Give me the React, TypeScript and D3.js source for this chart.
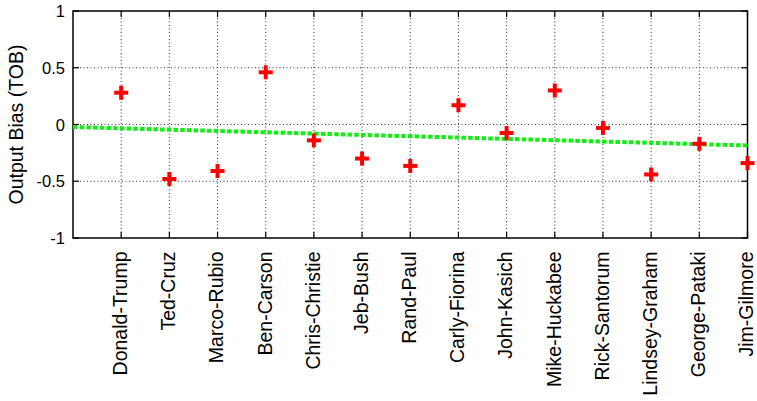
import React from "react";
import * as d3 from "d3";

const candidates = [
  "Donald-Trump", "Ted-Cruz", "Marco-Rubio", "Ben-Carson", "Chris-Christie",
  "Jeb-Bush", "Rand-Paul", "Carly-Fiorina", "John-Kasich", "Mike-Huckabee",
  "Rick-Santorum", "Lindsey-Graham", "George-Pataki", "Jim-Gilmore",
];
const biasValues = [0.28, -0.48, -0.41, 0.46, -0.14, -0.3, -0.365, 0.17, -0.075, 0.3, -0.03, -0.44, -0.17, -0.34];
const trendX = [0, 14];
const trendY = [-0.022, -0.185];
const yTicks = [-1, -0.5, 0, 0.5, 1];
const yTickLabels = ["-1", "-0.5", "0", "0.5", "1"];

const W = 757, H = 401;
const L = 73, R = 747.5, T = 11, B = 238;

export default function App() {
  const x = d3.scaleLinear().domain([0, 14]).range([L, R]);
  const y = d3.scaleLinear().domain([-1, 1]).range([B, T]);
  const line = d3.line<number>().x((_, i) => x(trendX[i])).y((d) => y(d));
  const font = "'Liberation Sans', Arial, sans-serif";
  return (
    <svg width={W} height={H} style={{ position: "absolute", left: 0, top: 0, background: "#fff" }} fontFamily={font}>
      {/* grid */}
      {yTicks.slice(1, -1).map((t) => (
        <line key={"gy" + t} x1={L} x2={R} y1={y(t)} y2={y(t)} stroke="#333" strokeWidth={1} strokeDasharray="1,2.5" />
      ))}
      {candidates.map((c, i) => (
        <line key={"gx" + c} x1={x(i + 1)} x2={x(i + 1)} y1={T} y2={B} stroke="#333" strokeWidth={1} strokeDasharray="1,2.5" />
      ))}
      {/* ticks */}
      {yTicks.map((t) => (
        <g key={"ty" + t}>
          <line x1={L} x2={L + 6} y1={y(t)} y2={y(t)} stroke="#000" strokeWidth={1.2} />
          <line x1={R - 6} x2={R} y1={y(t)} y2={y(t)} stroke="#000" strokeWidth={1.2} />
        </g>
      ))}
      {candidates.map((c, i) => (
        <g key={"tx" + c}>
          <line x1={x(i + 1)} x2={x(i + 1)} y1={B} y2={B - 6} stroke="#000" strokeWidth={1.2} />
          <line x1={x(i + 1)} x2={x(i + 1)} y1={T} y2={T + 6} stroke="#000" strokeWidth={1.2} />
        </g>
      ))}
      {/* border */}
      <rect x={L} y={T} width={R - L} height={B - T} fill="none" stroke="#000" strokeWidth={1.5} />
      {/* y tick labels */}
      {yTicks.map((t, i) => (
        <text key={"yl" + t} x={65} y={y(t)} textAnchor="end" dominantBaseline="central" fontSize={16.5} fill="#000">
          {yTickLabels[i]}
        </text>
      ))}
      {/* x labels */}
      {candidates.map((c, i) => (
        <text key={"xl" + c} transform={`translate(${x(i + 1)},251.5) rotate(-90)`} textAnchor="end" dy="0.3em" fontSize={19.5} fill="#000">
          {c}
        </text>
      ))}
      {/* y title */}
      <text transform={`translate(22.5,${(T + B) / 2}) rotate(-90)`} textAnchor="middle" fontSize={19.5} fill="#000">
        Output Bias (TOB)
      </text>
      {/* trend line */}
      <path d={line(trendY) || ""} fill="none" stroke="#11ee11" strokeWidth={4} strokeDasharray="4.5,2.2" />
      {/* markers */}
      {biasValues.map((v, i) => {
        const cx = x(i + 1), cy = y(v);
        return (
          <g key={"m" + i} stroke="#ff0000" strokeWidth={4}>
            <line x1={cx - 7} x2={cx + 7} y1={cy} y2={cy} />
            <line x1={cx} x2={cx} y1={cy - 7} y2={cy + 7} />
          </g>
        );
      })}
    </svg>
  );
}
